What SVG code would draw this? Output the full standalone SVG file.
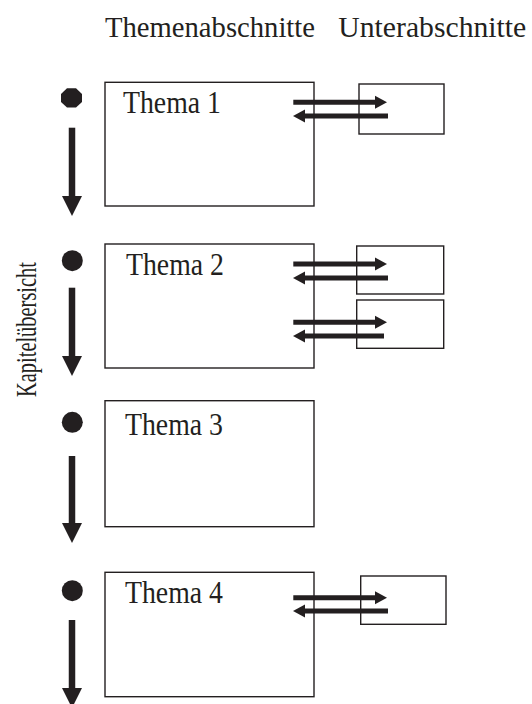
<svg xmlns="http://www.w3.org/2000/svg" width="532" height="704" viewBox="0 0 532 704">
<style>
.box{fill:#fff;stroke:#231f20;stroke-width:1.4}
.txt{font-family:"Liberation Serif","Times New Roman",serif;fill:#231f20}
.h{font-size:28.6px}
.t{font-size:32px}
.dot{fill:#231f20}
.ha{stroke:#231f20;stroke-width:5;fill:none}
.va{stroke:#231f20;stroke-width:6.5;fill:none}
</style>
<defs>
<marker id="hh" markerUnits="userSpaceOnUse" markerWidth="13" markerHeight="14" refX="0" refY="6.5" orient="auto" overflow="visible">
<path d="M0,0 L12,6.5 L0,13 z" fill="#231f20"/>
</marker>
<marker id="vh" markerUnits="userSpaceOnUse" markerWidth="21" markerHeight="21" refX="0" refY="10" orient="auto" overflow="visible">
<path d="M0,0 L20,10 L0,20 z" fill="#231f20"/>
</marker>
</defs>
<rect width="532" height="704" fill="#fff"/>
<g id="headings">
<text class="txt h" x="105" y="36.7" textLength="210" lengthAdjust="spacingAndGlyphs">Themenabschnitte</text>
<text class="txt h" x="338.3" y="36.7" textLength="188" lengthAdjust="spacingAndGlyphs">Unterabschnitte</text>
<text class="txt" font-size="30" transform="translate(36,397) rotate(-90)" textLength="135" lengthAdjust="spacingAndGlyphs">Kapitelübersicht</text>
</g>
<g id="thema1">
<rect class="box" x="105" y="82.3" width="209" height="123.7"/>
<text class="txt t" x="123" y="113.3" textLength="98" lengthAdjust="spacingAndGlyphs">Thema 1</text>
</g>
<g id="thema2">
<rect class="box" x="105" y="244" width="209" height="124"/>
<text class="txt t" x="126" y="275" textLength="98" lengthAdjust="spacingAndGlyphs">Thema 2</text>
</g>
<g id="thema3">
<rect class="box" x="105" y="400.7" width="209" height="126"/>
<text class="txt t" x="125" y="435" textLength="98" lengthAdjust="spacingAndGlyphs">Thema 3</text>
</g>
<g id="thema4">
<rect class="box" x="105" y="572.3" width="209" height="124.4"/>
<text class="txt t" x="125" y="603.3" textLength="98" lengthAdjust="spacingAndGlyphs">Thema 4</text>
</g>
<g id="sub1"><rect class="box" x="359" y="84" width="85" height="50"/></g>
<g id="sub2a"><rect class="box" x="356.7" y="246" width="87" height="48"/></g>
<g id="sub2b"><rect class="box" x="356.7" y="300" width="87" height="48.3"/></g>
<g id="sub4"><rect class="box" x="360.7" y="576" width="85.3" height="48.3"/></g>
<g id="dots">
<polygon class="dot" points="67,88.3 76,88.3 82,94 82,102 76,107.5 67,107.5 61,102 61,94"/>
<circle class="dot" cx="72.3" cy="260.7" r="10.5"/>
<circle class="dot" cx="72.3" cy="422.3" r="10.5"/>
<circle class="dot" cx="72.3" cy="590.7" r="10.5"/>
</g>
<g id="connectors">
<line class="va" x1="72" y1="127.7" x2="72" y2="196" marker-end="url(#vh)"/>
<line class="va" x1="72" y1="287.7" x2="72" y2="356" marker-end="url(#vh)"/>
<line class="va" x1="72" y1="456" x2="72" y2="523" marker-end="url(#vh)"/>
<line class="va" x1="72" y1="620" x2="72" y2="688" marker-end="url(#vh)"/>
<line class="ha" x1="293.3" y1="102.3" x2="375" y2="102.3" marker-end="url(#hh)"/>
<line class="ha" x1="388" y1="116" x2="305" y2="116" marker-end="url(#hh)"/>
<line class="ha" x1="293.3" y1="264" x2="375" y2="264" marker-end="url(#hh)"/>
<line class="ha" x1="388" y1="278" x2="305" y2="278" marker-end="url(#hh)"/>
<line class="ha" x1="293.3" y1="322.3" x2="375" y2="322.3" marker-end="url(#hh)"/>
<line class="ha" x1="384" y1="336" x2="305" y2="336" marker-end="url(#hh)"/>
<line class="ha" x1="293.3" y1="597.7" x2="375" y2="597.7" marker-end="url(#hh)"/>
<line class="ha" x1="388" y1="611" x2="305" y2="611" marker-end="url(#hh)"/>
</g>
</svg>
